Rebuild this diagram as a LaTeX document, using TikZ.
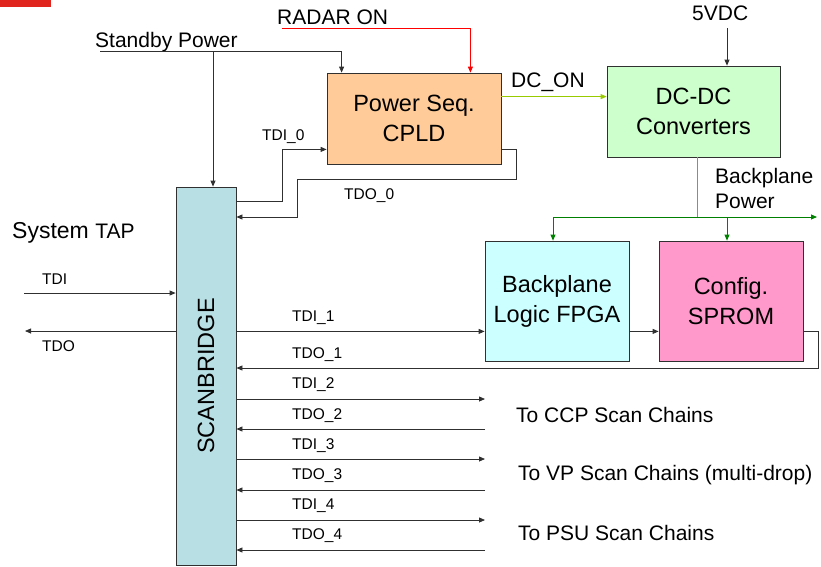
\documentclass[tikz,border=0pt]{standalone}
\usepackage{fontspec}
\setmainfont{Liberation Sans}
\usetikzlibrary{arrows.meta,calc}

\definecolor{cpldfill}{HTML}{FFCC99}
\definecolor{dcfill}{HTML}{CCFFCC}
\definecolor{fpgafill}{HTML}{CCFFFF}
\definecolor{promfill}{HTML}{FF99CC}
\definecolor{sbfill}{HTML}{B8DFE3}
\definecolor{wire}{HTML}{303030}
\definecolor{dconcol}{HTML}{99CC00}
\definecolor{pwrcol}{HTML}{008000}
\definecolor{pwrlight}{HTML}{60AA60}
\definecolor{barred}{HTML}{E0251F}

\tikzset{
  blockbox/.style={draw=wire, line width=0.8pt, inner sep=0pt, align=center,
    font=\fontsize{23.5}{30}\selectfont},
  biglabel/.style={inner sep=0pt, anchor=base west, font=\fontsize{21}{26}\selectfont},
  siglabel/.style={inner sep=0pt, anchor=base west, font=\fontsize{15.5}{18}\selectfont},
  wireline/.style={draw=wire, line width=0.8pt},
  arr/.style={wireline, -{Triangle[length=6pt,width=5pt]}},
}

\begin{document}
\begin{tikzpicture}[x=1pt,y=-1pt]
\useasboundingbox (0,0) rectangle (821,566);

% corner bar
\fill[barred] (0,0) rectangle (51,6.5);

% blocks
\node[blockbox, fill=cpldfill, minimum width=174pt, minimum height=91pt] (cpld) at (414,118.5) {Power Seq.\\CPLD};
\node[blockbox, fill=dcfill, minimum width=173pt, minimum height=91pt] (dcdc) at (693.5,111.5) {DC-DC\\Converters};
\node[blockbox, fill=fpgafill, minimum width=144pt, minimum height=120pt] (fpga) at (557,301) {Backplane\\Logic FPGA};
\node[blockbox, fill=promfill, minimum width=144pt, minimum height=120pt] (sprom) at (731,301) {Config.\\SPROM};
\node[blockbox, fill=sbfill, minimum width=60pt, minimum height=378pt] (sb) at (206,376) {};
\node[rotate=90, inner sep=0pt, font=\fontsize{23.5}{30}\selectfont] (sbtext) at (sb.center) {SCANBRIDGE};

% labels
\node[biglabel] (lstby) at (95,47) {Standby Power};
\node[biglabel] (lradar) at (277,24) {RADAR ON};
\node[biglabel] (l5v) at (692,20.5) {5VDC};
\node[biglabel] (ldcon) at (511,87) {DC\_ON};
\node[biglabel] (lbp1) at (715,183) {Backplane};
\node[biglabel] (lbp2) at (715,208.5) {Power};
\node[inner sep=0pt, anchor=base west] (ltap) at (12,238) {\fontsize{23}{26}\selectfont System \fontsize{21}{26}\selectfont TAP};
\node[biglabel] (lccp) at (516,422) {To CCP Scan Chains};
\node[biglabel] (lvp) at (518,480) {To VP Scan Chains (multi-drop)};
\node[biglabel] (lpsu) at (518,540.5) {To PSU Scan Chains};

\node[siglabel] (ltdi0) at (262,140.5) {TDI\_0};
\node[siglabel] (ltdo0) at (344,199.5) {TDO\_0};
\node[siglabel] (ltdi) at (42,284.5) {TDI};
\node[siglabel] (ltdo) at (42,351.5) {TDO};
\node[siglabel] (ltdi1) at (292,321.5) {TDI\_1};
\node[siglabel] (ltdo1) at (292,358.5) {TDO\_1};
\node[siglabel] (ltdi2) at (292,388.5) {TDI\_2};
\node[siglabel] (ltdo2) at (292,419.5) {TDO\_2};
\node[siglabel] (ltdi3) at (292,449.5) {TDI\_3};
\node[siglabel] (ltdo3) at (292,479.5) {TDO\_3};
\node[siglabel] (ltdi4) at (292,509.5) {TDI\_4};
\node[siglabel] (ltdo4) at (292,539.5) {TDO\_4};

% free ends and bends
\coordinate (sbyL) at (100,51);
\coordinate (radarL) at (282,28);
\coordinate (v5) at (727,28);
\coordinate (tdiL) at (24,293);
\coordinate (tdoL) at (25,331);
\coordinate (f1) at ([yshift=30pt]fpga.south west);
\coordinate (tdo1R) at (818,368);
\coordinate (tdo0A) at (516,179);
\coordinate (tdo0B) at (297,217);
\coordinate (c2i) at (485,399);
\coordinate (c2o) at (485,429);
\coordinate (c3i) at (485,459);
\coordinate (c3o) at (485,490);
\coordinate (c4i) at (485,520);
\coordinate (c4o) at (485,550);
\coordinate (bpJ) at (697,217);
\coordinate (bpL) at (553,217);
\coordinate (bpS) at (727,217);
\coordinate (bpR) at (817,217);

% standby power
\draw[arr] (sbyL) -| ([xshift=15pt]cpld.north west);
\draw[arr] ([xshift=7pt]sb.north |- sbyL) -- ([xshift=7pt]sb.north);

% radar on
\draw[arr, draw=red] (radarL) -| ([xshift=-31pt]cpld.north east);

% CPLD scan loop
\draw[arr] ([yshift=-15pt]sb.north east) -- ++(46,0) |- ([yshift=15pt]cpld.south west);
\draw[arr] ([yshift=15pt]cpld.south east) -| (tdo0A) -| (tdo0B) -- (tdo0B -| sb.east);

% system TAP
\draw[arr] (tdiL) -- (tdiL -| sb.west);
\draw[arr] (tdoL -| sb.west) -- (tdoL);

% backplane chain
\draw[arr] (f1 -| sb.east) -- (f1);
\draw[arr] (f1 -| fpga.east) -- (f1 -| sprom.west);
\draw[arr] (f1 -| sprom.east) -| (tdo1R) -- (tdo1R -| sb.east);

% outgoing chains
\draw[arr] (c2i -| sb.east) -- (c2i);
\draw[arr] (c2o) -- (c2o -| sb.east);
\draw[arr] (c3i -| sb.east) -- (c3i);
\draw[arr] (c3o) -- (c3o -| sb.east);
\draw[arr] (c4i -| sb.east) -- (c4i);
\draw[arr] (c4o) -- (c4o -| sb.east);

% power
\draw[arr, draw=dconcol] ([yshift=-24pt]cpld.north east) -- ([yshift=-24pt]cpld.north east -| dcdc.west);
\draw[arr] (v5) -- (v5 |- dcdc.north);
\draw[wireline, draw=pwrlight] (bpJ |- dcdc.south) -- (bpJ);
\draw[arr, draw=pwrcol] (bpL) -- (bpR);
\draw[arr, draw=pwrcol] (bpL) -- (bpL |- fpga.north);
\draw[arr, draw=pwrcol] (bpS) -- (bpS |- sprom.north);
\end{tikzpicture}
\end{document}
